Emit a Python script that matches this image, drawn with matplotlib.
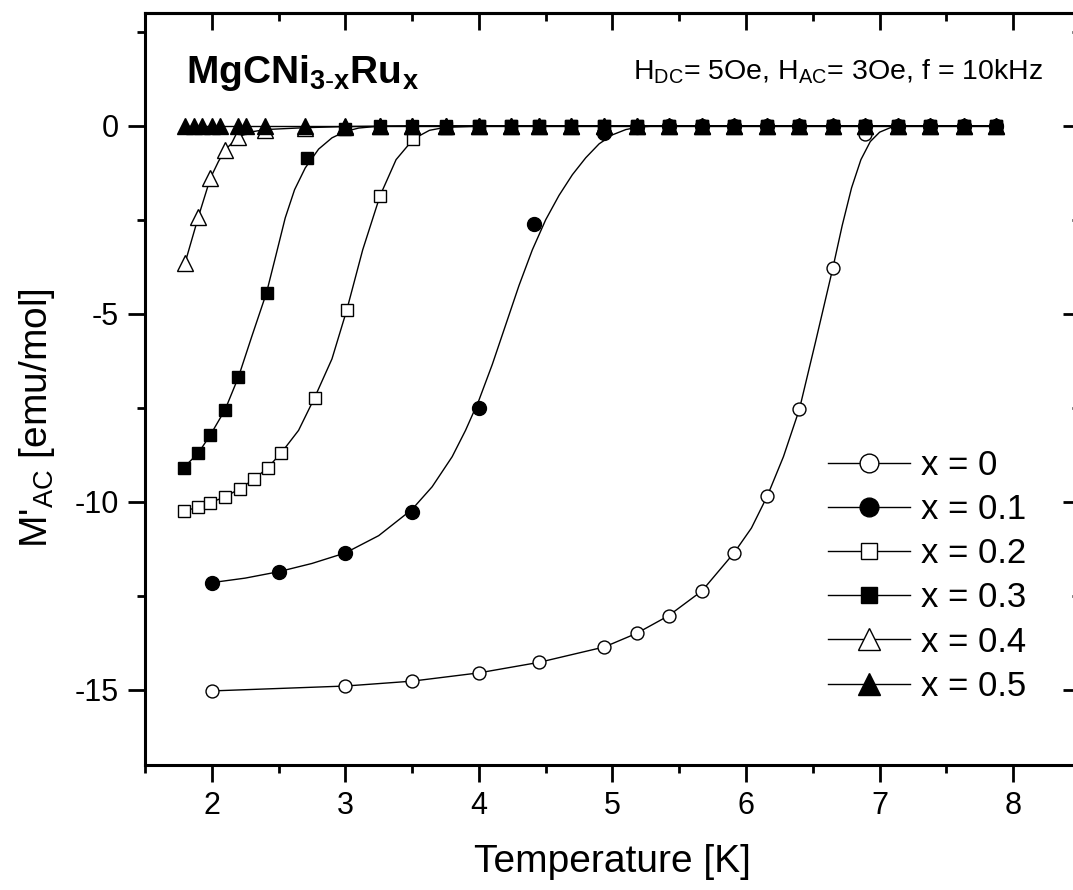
import matplotlib
matplotlib.use('Agg')
import matplotlib.pyplot as plt
from matplotlib.ticker import MultipleLocator, NullFormatter
from matplotlib.lines import Line2D

plt.rcParams['font.family'] = ['Liberation Sans', 'DejaVu Sans']
plt.rcParams['mathtext.fontset'] = 'custom'
plt.rcParams['mathtext.rm'] = 'Liberation Sans'
plt.rcParams['mathtext.it'] = 'Liberation Sans:italic'
plt.rcParams['mathtext.bf'] = 'Liberation Sans:bold'
plt.rcParams['axes.unicode_minus'] = False

# ---------------- data ----------------
labels = ['x = 0', 'x = 0.1', 'x = 0.2', 'x = 0.3', 'x = 0.4', 'x = 0.5']

# x = 0 (open circles)
T0 = [2.0, 3.0, 3.5, 4.0, 4.45, 4.94, 5.18, 5.42, 5.67, 5.91, 6.16, 6.40, 6.65,
      6.89, 7.14, 7.38, 7.63, 7.87]
M0 = [-15.03, -14.9, -14.77, -14.55, -14.27, -13.86, -13.5, -13.03, -12.37,
      -11.36, -9.84, -7.53, -3.78, -0.22, -0.02, 0.0, 0.0, 0.0]

# x = 0.1 (filled circles)
T1 = [2.0, 2.5, 3.0, 3.5, 4.0, 4.41, 4.94, 5.18, 5.42, 5.67, 5.91, 6.16, 6.40,
      6.65, 6.89, 7.14, 7.38, 7.63, 7.87]
M1 = [-12.15, -11.86, -11.36, -10.27, -7.5, -2.6, -0.2, -0.04, 0.0, 0.0, 0.0,
      0.0, 0.0, 0.0, 0.0, 0.0, 0.0, 0.0, 0.0]

# x = 0.2 (open squares)
T2 = [1.79, 1.90, 1.99, 2.10, 2.21, 2.32, 2.42, 2.52, 2.77, 3.01, 3.26, 3.51,
      3.75, 4.0, 4.24, 4.45, 4.69, 4.94, 5.18, 5.42, 5.67, 5.91, 6.16, 6.40,
      6.65, 6.89, 7.14, 7.38, 7.63, 7.87]
M2 = [-10.24, -10.15, -10.02, -9.87, -9.65, -9.39, -9.09, -8.7, -7.23, -4.91,
      -1.86, -0.35, -0.05, 0.0, 0.0, 0.0, 0.0, 0.0, 0.0, 0.0, 0.0, 0.0, 0.0,
      0.0, 0.0, 0.0, 0.0, 0.0, 0.0, 0.0]

# x = 0.3 (filled squares)
T3 = [1.79, 1.90, 1.99, 2.10, 2.20, 2.41, 2.71, 3.0, 3.26, 3.5, 3.75, 4.0,
      4.24, 4.45, 4.69, 4.94, 5.18, 5.42, 5.67, 5.91, 6.16, 6.40, 6.65, 6.89,
      7.14, 7.38, 7.63, 7.87]
M3 = [-9.09, -8.7, -8.22, -7.55, -6.68, -4.44, -0.85, -0.08, 0.0, 0.0, 0.0,
      0.0, 0.0, 0.0, 0.0, 0.0, 0.0, 0.0, 0.0, 0.0, 0.0, 0.0, 0.0, 0.0, 0.0,
      0.0, 0.0, 0.0]

# x = 0.4 (open triangles)
T4 = [1.80, 1.90, 1.99, 2.10, 2.20, 2.40, 2.70, 3.0, 3.26, 3.5, 3.75, 4.0,
      4.24, 4.45, 4.69, 4.94, 5.18, 5.42, 5.67, 5.91, 6.16, 6.40, 6.65, 6.89,
      7.14, 7.38, 7.63, 7.87]
M4 = [-3.65, -2.42, -1.39, -0.64, -0.29, -0.1, -0.05, -0.02, 0.0, 0.0, 0.0,
      0.0, 0.0, 0.0, 0.0, 0.0, 0.0, 0.0, 0.0, 0.0, 0.0, 0.0, 0.0, 0.0, 0.0,
      0.0, 0.0, 0.0]

# x = 0.5 (filled triangles)
T5 = [1.80, 1.87, 1.93, 2.0, 2.06, 2.20, 2.26, 2.40, 2.70, 3.0, 3.26, 3.5,
      3.75, 4.0, 4.24, 4.45, 4.69, 4.94, 5.18, 5.42, 5.67, 5.91, 6.16, 6.40,
      6.65, 6.89, 7.14, 7.38, 7.63, 7.87]
M5 = [0.0] * len(T5)

# smooth guide curves
C0_T = [2.0, 3.0, 3.5, 4.0, 4.45, 4.94, 5.18, 5.42, 5.67, 5.91, 6.04, 6.16,
        6.28, 6.40, 6.52, 6.65, 6.72, 6.79, 6.86, 6.93, 7.0, 7.08, 7.2, 7.87]
C0_M = [-15.03, -14.9, -14.77, -14.55, -14.27, -13.86, -13.5, -13.03, -12.37,
        -11.36, -10.7, -9.84, -8.8, -7.53, -5.75, -3.78, -2.65, -1.65, -0.9,
        -0.42, -0.17, -0.05, -0.01, 0.0]
C1_T = [2.0, 2.25, 2.5, 2.75, 3.0, 3.25, 3.5, 3.65, 3.8, 3.9, 4.0, 4.1, 4.2,
        4.3, 4.4, 4.5, 4.6, 4.7, 4.8, 4.9, 5.0, 5.1, 5.2, 5.35, 7.87]
C1_M = [-12.15, -12.03, -11.86, -11.64, -11.36, -10.9, -10.2, -9.6, -8.8,
        -8.1, -7.3, -6.35, -5.3, -4.25, -3.3, -2.5, -1.85, -1.3, -0.85, -0.48,
        -0.24, -0.1, -0.03, 0.0, 0.0]
C2_T = [1.79, 1.90, 1.99, 2.10, 2.21, 2.32, 2.42, 2.52, 2.65, 2.77, 2.9, 3.01,
        3.13, 3.26, 3.38, 3.51, 3.63, 3.75, 4.0, 7.87]
C2_M = [-10.24, -10.15, -10.02, -9.87, -9.65, -9.39, -9.09, -8.7, -8.1, -7.23,
        -6.2, -4.91, -3.3, -1.86, -0.9, -0.35, -0.12, -0.04, -0.01, 0.0]
C3_T = [1.79, 1.90, 1.99, 2.10, 2.20, 2.30, 2.41, 2.48, 2.55, 2.62, 2.7, 2.8,
        2.9, 3.0, 3.1, 3.25, 7.87]
C3_M = [-9.09, -8.7, -8.22, -7.55, -6.68, -5.6, -4.44, -3.45, -2.45, -1.7,
        -1.12, -0.62, -0.32, -0.15, -0.06, -0.01, 0.0]
C4_T = [1.80, 1.90, 1.99, 2.05, 2.10, 2.20, 2.30, 2.40, 2.70, 3.0, 3.5, 7.87]
C4_M = [-3.65, -2.42, -1.39, -0.95, -0.64, -0.29, -0.16, -0.1, -0.05, -0.02,
        0.0, 0.0]
C5_T = [1.80, 7.87]
C5_M = [0.0, 0.0]

x_major = [2, 3, 4, 5, 6, 7, 8]
y_major = [0, -5, -10, -15]

# ---------------- styles ----------------
markers = ['o', 'o', 's', 's', '^', '^']
faces = ['white', 'black', 'white', 'black', 'white', 'black']
msizes = [9.3, 10.0, 8.8, 9.0, 12.0, 12.0]
leg_sizes = [13.5, 13.5, 12.0, 12.0, 15.5, 15.5]

series = [(T0, M0), (T1, M1), (T2, M2), (T3, M3), (T4, M4), (T5, M5)]
curves = [(C0_T, C0_M), (C1_T, C1_M), (C2_T, C2_M), (C3_T, C3_M),
          (C4_T, C4_M), (C5_T, C5_M)]

fig = plt.figure(figsize=(10.73, 8.9), dpi=100)
ax = fig.add_axes([0.1351, 0.14045, 0.8714, 0.84494])

for i in range(6):
    ct, cm = curves[i]
    ax.plot(ct, cm, '-', color='black', lw=1.0, zorder=2 + 2 * i)
    t, m = series[i]
    ax.plot(t, m, linestyle='none', marker=markers[i], ms=msizes[i],
            mfc=faces[i], mec='black', mew=1.0, zorder=3 + 2 * i)

ax.set_xlim(1.5, 8.5)
ax.set_ylim(-17, 3)
ax.set_xticks(x_major)
ax.set_yticks(y_major)
ax.xaxis.set_minor_locator(MultipleLocator(0.5))
ax.yaxis.set_minor_locator(MultipleLocator(2.5))
ax.tick_params(which='major', direction='out', length=12, width=2.0,
               labelsize=22, pad=7)
ax.tick_params(which='minor', direction='out', length=6, width=2.0)
for sp in ax.spines.values():
    sp.set_linewidth(2.2)

secx = ax.secondary_xaxis('top')
secx.set_xticks(x_major)
secx.xaxis.set_minor_locator(MultipleLocator(0.5))
secx.xaxis.set_major_formatter(NullFormatter())
secx.tick_params(which='major', direction='in', length=12, width=2.0)
secx.tick_params(which='minor', direction='in', length=6, width=2.0)
secx.spines['top'].set_linewidth(2.2)

secy = ax.secondary_yaxis('right')
secy.set_yticks(y_major)
secy.yaxis.set_minor_locator(MultipleLocator(2.5))
secy.yaxis.set_major_formatter(NullFormatter())
secy.tick_params(which='major', direction='in', length=12, width=2.0)
secy.tick_params(which='minor', direction='in', length=6, width=2.0)

ax.set_xlabel('Temperature [K]', fontsize=28)
ax.xaxis.set_label_coords(0.5, -0.105)
ax.set_ylabel("M'$_{\\mathrm{AC}}$ [emu/mol]", fontsize=28)
ax.yaxis.set_label_coords(-0.094, 0.461)

ax.text(1.81, 1.14, r"$\mathbf{MgCNi}_{\mathbf{3\text{-}x}}\mathbf{Ru}_{\mathbf{x}}$",
        fontsize=28, ha='left', va='baseline')
ax.text(8.226, 1.22, r"H$_{\mathrm{DC}}$= 5Oe, H$_{\mathrm{AC}}$= 3Oe, f = 10kHz",
        fontsize=20.5, ha='right', va='baseline')

handles = [Line2D([], [], color='black', lw=1.0, marker=markers[i],
                  ms=leg_sizes[i], mfc=faces[i], mec='black', mew=1.0)
           for i in range(6)]
ax.legend(handles, labels, loc='upper left', bbox_to_anchor=(0.7305, 0.420),
          frameon=False, fontsize=25, handlelength=2.36, handletextpad=0.32,
          labelspacing=0.32, borderpad=0, borderaxespad=0, numpoints=1)

fig.savefig('out.png', dpi=100)
